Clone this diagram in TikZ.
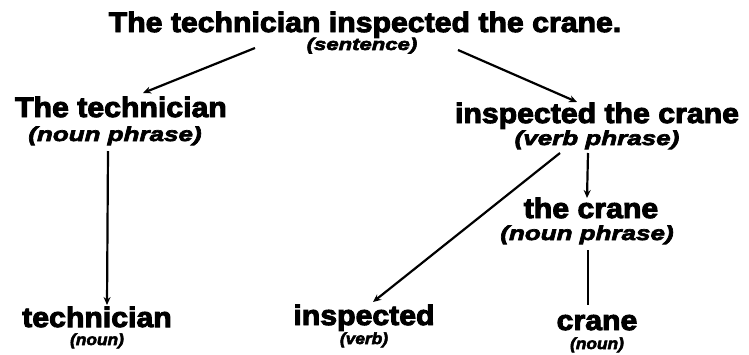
\documentclass[tikz,border=0pt]{standalone}
\usepackage{fontspec}
\setmainfont{Liberation Sans}[BoldFeatures={FakeBold=3.5,FakeStretch=1.08},BoldItalicFeatures={FakeBold=3.5,FakeStretch=1.08}]
\newfontfamily\catfont{Liberation Sans}[BoldItalicFeatures={FakeBold=3.5,FakeStretch=1.3}]
\usetikzlibrary{arrows.meta,calc}
\begin{document}
\begin{tikzpicture}[x=1pt,y=-1pt,
  word/.style={inner sep=0pt,anchor=base,font=\bfseries\fontsize{#1}{#1}\selectfont},
  cat/.style={inner sep=0pt,anchor=base,font=\catfont\bfseries\itshape\fontsize{#1}{#1}\selectfont},
  leafcat/.style={inner sep=0pt,anchor=base,font=\bfseries\itshape\fontsize{#1}{#1}\selectfont},
  arr/.style={line width=2.2pt,-{Stealth[length=8pt,width=7pt]}},
  ln/.style={line width=2.2pt}]
\useasboundingbox (0,0) rectangle (749,354);
% sentence
\node[word=28] (s) at (365,32) {The technician inspected the crane.};
\node[cat=17] (ss) at (362,50) {(sentence)};
% noun phrase
\node[word=28] (np) at (121,117) {The technician};
\node[cat=20] (nps) at (115,141) {(noun phrase)};
% verb phrase
\node[word=28] (vp) at (597,123) {inspected the crane};
\node[cat=20] (vps) at (597,145) {(verb phrase)};
% the crane
\node[word=28] (np2) at (591,218) {the crane};
\node[cat=20] (np2s) at (587,240) {(noun phrase)};
% leaves
\node[word=28] (n1) at (97,327) {technician};
\node[leafcat=16] (n1s) at (97,345) {(noun)};
\node[word=28] (v) at (364,325) {inspected};
\node[leafcat=16] (vs) at (364,344) {(verb)};
\node[word=28] (n2) at (597,330) {crane};
\node[leafcat=16] (n2s) at (597,349) {(noun)};
% connectors
\draw[arr] ($(ss.base)+(-107,-2)$) -- ($(np.base)+(22,-24)$);
\draw[arr] ($(ss.base)+(96,0)$) -- ($(vp.base)+(-20,-21)$);
\draw[arr] ($(nps.base)+(-7,10)$) -- ($(n1.base)+(10,-22)$);
\draw[arr] ($(vps.base)+(-37,8)$) -- ($(v.base)+(9,-23)$);
\draw[arr] ($(vps.base)+(-9,8)$) -- ($(np2.base)+(-4,-20)$);
\draw[ln] ($(np2s.base)+(1,10)$) -- ($(n2.base)+(-9,-25)$);
\end{tikzpicture}
\end{document}
